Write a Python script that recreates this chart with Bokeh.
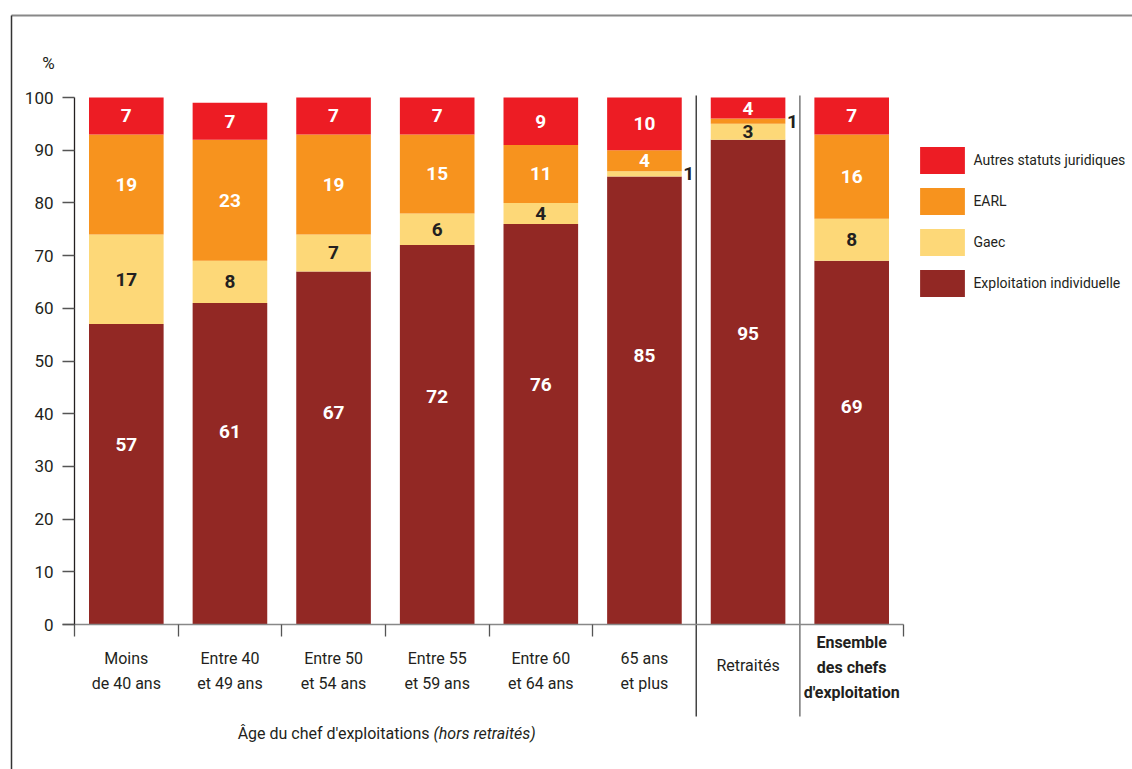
from bokeh.plotting import figure
from bokeh.models import (Range1d, LinearAxis, FixedTicker, ColumnDataSource,
                          Legend, LegendItem)
from bokeh.core.properties import value
from bokeh.embed import file_html
from bokeh.resources import INLINE

# ---------------- data ----------------
cat_lines = [
    ["Moins", "de 40 ans"],
    ["Entre 40", "et 49 ans"],
    ["Entre 50", "et 54 ans"],
    ["Entre 55", "et 59 ans"],
    ["Entre 60", "et 64 ans"],
    ["65 ans", "et plus"],
    ["Retraités"],
    ["Ensemble", "des chefs", "d'exploitation"],
]
individuelle = [57, 61, 67, 72, 76, 85, 92, 69]
individuelle_labels = ["57", "61", "67", "72", "76", "85", "95", "69"]
gaec = [17, 8, 7, 6, 4, 1, 3, 8]
earl = [19, 23, 19, 15, 11, 4, 1, 16]
autres = [7, 7, 7, 7, 9, 10, 4, 7]
series_names = ["Exploitation individuelle", "Gaec", "EARL", "Autres statuts juridiques"]
series_colors = ["#922824", "#FDD878", "#F7931E", "#ED1C24"]
y_ticks = [0, 10, 20, 30, 40, 50, 60, 70, 80, 90, 100]
x_title_regular = "Âge du chef d'exploitations"
x_title_italic = "(hors retraités)"
y_unit = "%"

# ---------------- layout constants ----------------
W, H = 1132, 769
X0_PX, X_UNIT = 74.0, 103.625
Y0_PX, Y_UNIT = 624.0, 5.27
FONT = "Roboto"
DARK = "#231f20"


def dx(px):
    return (px - X0_PX) / X_UNIT


def dy(py):
    return (Y0_PX - py) / Y_UNIT


p = figure(width=W, height=H,
           x_range=Range1d(dx(0), dx(W)), y_range=Range1d(dy(H), dy(0)),
           x_axis_type=None, y_axis_type=None,
           toolbar_location=None, output_backend="svg",
           min_border=0, outline_line_color=None,
           background_fill_color="white", border_fill_color="white")

n = len(cat_lines)
xs = [i + 0.5 for i in range(n)]
src = ColumnDataSource(dict(x=xs, ind=individuelle, gaec=gaec, earl=earl, autres=autres))
stack_keys = ["ind", "gaec", "earl", "autres"]
renderers = p.vbar_stack(stack_keys, x="x", width=0.72, color=series_colors,
                         line_color=None, source=src)

# frame border lines
p.segment(x0=[dx(11), dx(11)], y0=[dy(15), dy(15)], x1=[dx(W), dx(11)], y1=[dy(15), dy(H)],
          line_color=["#888888", "#333333"], line_width=[2, 1.5])

# dividers between groups
p.segment(x0=[6, 7], y0=[dy(95), dy(95)], x1=[6, 7], y1=[dy(716), dy(716)],
          line_color=["#444444", "#777777"], line_width=1.5)

# axes
yaxis = LinearAxis(fixed_location=0, ticker=FixedTicker(ticks=y_ticks), bounds=(0, 100),
                   axis_line_color=DARK, axis_line_width=1.3,
                   major_tick_line_color="#555555", major_tick_line_width=1.3,
                   major_tick_out=12, major_tick_in=0, minor_tick_out=0, minor_tick_in=0,
                   major_label_text_font=FONT, major_label_text_font_size="17px",
                   major_label_text_color=DARK, major_label_standoff=9)
p.add_layout(yaxis, "left")

xticks = [0, 1, 2, 3, 4, 5, 8]
xaxis = LinearAxis(fixed_location=0, ticker=FixedTicker(ticks=xticks), bounds=(dx(62), 8),
                   axis_line_color="#888888", axis_line_width=1.5,
                   major_tick_line_color="#555555", major_tick_line_width=1.3,
                   major_tick_out=12, major_tick_in=0, minor_tick_out=0, minor_tick_in=0,
                   major_label_overrides={t: "" for t in xticks})
p.add_layout(xaxis, "below")

# value labels
lab_x, lab_y, lab_t, lab_c, lab_align = [], [], [], [], []
for i in range(n):
    cx = xs[i]
    right = cx + 0.36
    lab_x.append(cx); lab_y.append(0.6 * individuelle[i]); lab_t.append(individuelle_labels[i])
    lab_c.append("white"); lab_align.append("center")
    b = individuelle[i]
    for vals, col in ((gaec, DARK), (earl, "white"), (autres, "white")):
        v = vals[i]
        mid = b + v / 2
        if v > 1:
            lab_x.append(cx); lab_c.append(col); lab_align.append("center")
        else:
            lab_x.append(right + 0.015); lab_c.append(DARK); lab_align.append("left")
        lab_y.append(mid); lab_t.append(str(v))
        b += v

p.text(x=lab_x, y=lab_y, text=lab_t, text_color=lab_c, text_align=lab_align,
       text_baseline="middle", text_font=value(FONT), text_font_style="bold",
       text_font_size="19px")

# category labels
line_pos = {1: [665], 2: [658, 683], 3: [641.7, 666.7, 691.7]}
cx_l, cy_l, ct_l, cs_l = [], [], [], []
for i, lines in enumerate(cat_lines):
    for j, t in enumerate(lines):
        cx_l.append(xs[i]); cy_l.append(dy(line_pos[len(lines)][j])); ct_l.append(t)
        cs_l.append("bold" if i == n - 1 else "normal")
for style in ("normal", "bold"):
    idx = [k for k in range(len(ct_l)) if cs_l[k] == style]
    p.text(x=[cx_l[k] for k in idx], y=[cy_l[k] for k in idx], text=[ct_l[k] for k in idx],
           text_align="center", text_baseline="middle", text_color=DARK,
           text_font=value(FONT), text_font_size="16px", text_font_style=style)

# axis title
p.text(x=[dx(429)], y=[dy(733)], text=[x_title_regular], text_align="right",
       text_baseline="middle", text_color=DARK, text_font=value(FONT), text_font_size="16px")
p.text(x=[dx(433)], y=[dy(733)], text=[x_title_italic], text_align="left",
       text_baseline="middle", text_color=DARK, text_font=value(FONT), text_font_size="16px",
       text_font_style="italic")
p.text(x=[dx(48)], y=[dy(62)], text=[y_unit], text_align="center",
       text_baseline="middle", text_color=DARK, text_font=value(FONT), text_font_size="17px")

# legend
items = [LegendItem(label=series_names[k], renderers=[renderers[k]]) for k in (3, 2, 1, 0)]
legend = Legend(items=items, location=(914.4, 769 - 300.4),
                glyph_width=56, glyph_height=34, spacing=7, padding=0, margin=0,
                label_standoff=3, border_line_color=None, background_fill_alpha=0,
                label_text_font=FONT, label_text_font_size="14px", label_text_color=DARK)
p.add_layout(legend)

open("out.html", "w").write(file_html(p, INLINE))
